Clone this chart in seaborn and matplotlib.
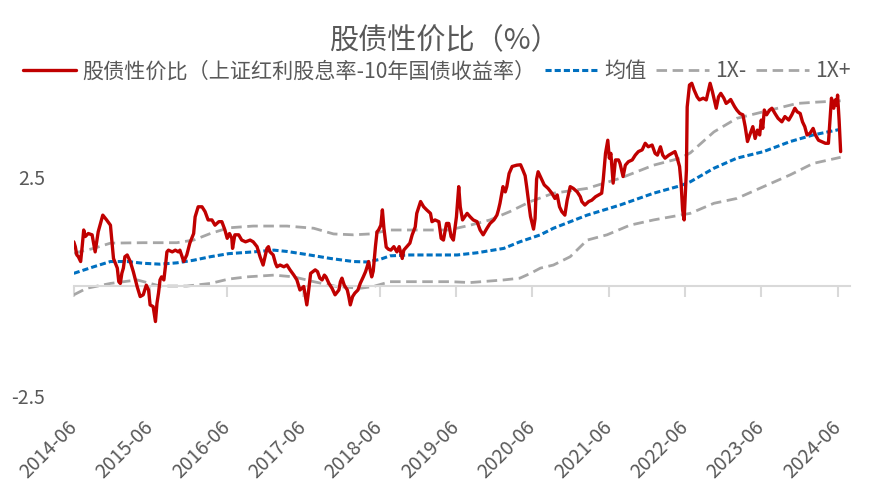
import matplotlib
matplotlib.use("Agg")
import matplotlib.pyplot as plt
import matplotlib.dates as mdates
import pandas as pd
import seaborn as sns

# values; time is given as decimal year
red_t = [2014.41, 2014.43, 2014.45, 2014.47, 2014.50, 2014.52, 2014.54, 2014.56, 2014.60, 2014.65,
         2014.69, 2014.71, 2014.73, 2014.76, 2014.79, 2014.84, 2014.89, 2014.91, 2014.93, 2014.98,
         2015.00, 2015.02, 2015.04, 2015.06, 2015.08, 2015.11, 2015.15, 2015.19, 2015.24, 2015.28,
         2015.32, 2015.36, 2015.39, 2015.41, 2015.45, 2015.48, 2015.50, 2015.52, 2015.54, 2015.56,
         2015.59, 2015.61, 2015.63, 2015.65, 2015.70, 2015.74, 2015.78, 2015.80, 2015.85, 2015.89,
         2015.93, 2015.98, 2016.00, 2016.04, 2016.09, 2016.13, 2016.17, 2016.22, 2016.26, 2016.31,
         2016.35, 2016.39, 2016.42, 2016.45, 2016.48, 2016.49, 2016.52, 2016.57, 2016.61, 2016.66,
         2016.72, 2016.76, 2016.81, 2016.85, 2016.89, 2016.92, 2016.94, 2016.96, 2016.98, 2017.02,
         2017.05, 2017.07, 2017.11, 2017.16, 2017.20, 2017.24, 2017.29, 2017.33, 2017.37, 2017.42,
         2017.46, 2017.48, 2017.51, 2017.54, 2017.57, 2017.60, 2017.63, 2017.66, 2017.69, 2017.71,
         2017.75, 2017.79, 2017.83, 2017.88, 2017.90, 2017.92, 2017.95, 2017.99, 2018.01, 2018.03,
         2018.06, 2018.09, 2018.13, 2018.16, 2018.20, 2018.23, 2018.25, 2018.27, 2018.29, 2018.31,
         2018.33, 2018.36, 2018.38, 2018.40, 2018.43, 2018.45, 2018.47, 2018.50, 2018.53, 2018.56,
         2018.60, 2018.64, 2018.67, 2018.71, 2018.73, 2018.77, 2018.81, 2018.84, 2018.88, 2018.90,
         2018.95, 2018.99, 2019.03, 2019.08, 2019.10, 2019.14, 2019.19, 2019.22, 2019.25, 2019.29,
         2019.32, 2019.35, 2019.38, 2019.42, 2019.45, 2019.47, 2019.50, 2019.56, 2019.60, 2019.64,
         2019.69, 2019.73, 2019.77, 2019.82, 2019.86, 2019.91, 2019.95, 2019.97, 2019.99, 2020.03,
         2020.06, 2020.08, 2020.11, 2020.15, 2020.21, 2020.26, 2020.29, 2020.32, 2020.34, 2020.36,
         2020.39, 2020.43, 2020.45, 2020.47, 2020.49, 2020.53, 2020.57, 2020.62, 2020.67, 2020.71,
         2020.74, 2020.77, 2020.80, 2020.84, 2020.87, 2020.91, 2020.95, 2021.00, 2021.04, 2021.06,
         2021.10, 2021.15, 2021.19, 2021.24, 2021.28, 2021.32, 2021.34, 2021.37, 2021.40, 2021.42,
         2021.44, 2021.47, 2021.50, 2021.54, 2021.56, 2021.60, 2021.63, 2021.67, 2021.72, 2021.76,
         2021.80, 2021.85, 2021.89, 2021.93, 2021.98, 2022.02, 2022.05, 2022.09, 2022.12, 2022.15,
         2022.20, 2022.24, 2022.28, 2022.31, 2022.34, 2022.36, 2022.38, 2022.40, 2022.43, 2022.44,
         2022.47, 2022.50, 2022.53, 2022.57, 2022.60, 2022.65, 2022.69, 2022.72, 2022.74, 2022.77,
         2022.82, 2022.85, 2022.88, 2022.92, 2022.95, 2022.98, 2023.01, 2023.06, 2023.09, 2023.13,
         2023.17, 2023.20, 2023.23, 2023.26, 2023.30, 2023.33, 2023.36, 2023.39, 2023.41, 2023.43,
         2023.45, 2023.48, 2023.52, 2023.55, 2023.59, 2023.63, 2023.68, 2023.72, 2023.77, 2023.81,
         2023.85, 2023.88, 2023.92, 2023.95, 2023.98, 2024.01, 2024.05, 2024.09, 2024.12, 2024.16,
         2024.20, 2024.25, 2024.29, 2024.31, 2024.33, 2024.36, 2024.38, 2024.40, 2024.41, 2024.43,
         2024.45]
red_v = [1.02, 0.91, 0.72, 0.68, 0.57, 0.91, 1.29, 1.14, 1.21, 1.18,
         0.79, 1.02, 1.25, 1.44, 1.63, 1.52, 1.40, 1.02, 0.64, 0.42,
         0.11, 0.07, 0.30, 0.42, 0.68, 0.72, 0.57, 0.34, 0.00, -0.23,
         -0.19, 0.03, -0.08, -0.42, -0.46, -0.80, -0.38, -0.15, 0.15, 0.22,
         0.15, 0.45, 0.79, 0.83, 0.79, 0.83, 0.79, 0.83, 0.57, 0.72,
         0.99, 1.21, 1.59, 1.82, 1.82, 1.71, 1.52, 1.52, 1.40, 1.48,
         1.48, 1.29, 1.10, 1.21, 1.10, 0.87, 1.18, 1.18, 1.06, 1.02,
         1.06, 1.02, 0.91, 0.68, 0.49, 0.72, 0.87, 0.91, 0.79, 0.72,
         0.53, 0.45, 0.49, 0.45, 0.49, 0.38, 0.26, 0.15, -0.08, 0.00,
         -0.42, -0.15, 0.30, 0.34, 0.38, 0.34, 0.19, 0.15, 0.26, 0.22,
         0.07, -0.04, -0.19, -0.08, 0.11, 0.19, 0.03, -0.08, -0.23, -0.42,
         -0.23, -0.15, -0.08, 0.07, 0.22, 0.34, 0.45, 0.57, 0.38, 0.22,
         0.35, 0.93, 1.25, 1.29, 1.40, 1.75, 1.33, 0.90, 0.85, 0.83,
         0.91, 0.79, 0.91, 0.64, 0.83, 0.91, 0.99, 1.18, 1.36, 1.67,
         1.94, 1.82, 1.75, 1.67, 1.48, 1.52, 1.48, 1.10, 1.06, 1.44,
         1.44, 1.14, 1.06, 1.59, 2.28, 1.82, 1.52, 1.67, 1.59, 1.52,
         1.48, 1.29, 1.18, 1.33, 1.44, 1.52, 1.63, 1.75, 1.90, 2.28,
         2.16, 2.28, 2.58, 2.74, 2.77, 2.78, 2.66, 2.53, 2.28, 2.00,
         1.60, 1.31, 1.55, 2.45, 2.62, 2.47, 2.32, 2.24, 2.13, 2.01,
         2.09, 1.82, 1.71, 1.63, 1.97, 2.28, 2.24, 2.16, 2.05, 1.94,
         1.86, 1.94, 1.97, 2.05, 2.09, 2.13, 2.43, 3.04, 3.34, 2.93,
         3.04, 2.36, 2.89, 2.89, 2.81, 2.51, 2.77, 2.85, 2.89, 3.00,
         3.08, 3.12, 3.27, 3.19, 3.23, 3.04, 3.00, 3.19, 3.00, 2.93,
         3.00, 3.04, 3.08, 2.93, 2.74, 2.36, 1.75, 1.52, 2.66, 4.10,
         4.60, 4.64, 4.49, 4.33, 4.26, 4.30, 4.26, 4.49, 4.64, 4.45,
         4.07, 4.33, 4.41, 4.30, 4.18, 4.22, 4.27, 4.11, 4.03, 3.95,
         3.92, 3.65, 3.31, 3.46, 3.65, 3.38, 3.57, 3.46, 3.80, 3.61,
         4.03, 3.92, 4.03, 4.07, 3.95, 3.84, 3.76, 3.88, 3.80, 3.92,
         4.07, 3.99, 3.95, 3.76, 3.65, 3.46, 3.50, 3.61, 3.46, 3.34,
         3.31, 3.27, 3.27, 3.80, 4.30, 4.07, 4.26, 4.14, 4.37, 3.80,
         3.08]

mean_t = [2014.41, 2014.67, 2014.89, 2015.11, 2015.32, 2015.54, 2015.76, 2015.98, 2016.20, 2016.44,
          2016.76, 2017.03, 2017.20, 2017.46, 2017.77, 2018.07, 2018.25, 2018.42, 2018.55, 2018.81,
          2019.16, 2019.43, 2019.69, 2020.04, 2020.25, 2020.52, 2020.69, 2021.13, 2021.56, 2022.00,
          2022.35, 2022.48, 2022.79, 2023.09, 2023.44, 2023.79, 2024.09, 2024.45]
mean_v = [0.30, 0.45, 0.57, 0.57, 0.53, 0.51, 0.54, 0.60, 0.68, 0.75,
          0.79, 0.83, 0.80, 0.73, 0.64, 0.57, 0.56, 0.62, 0.70, 0.72,
          0.72, 0.72, 0.77, 0.87, 1.02, 1.18, 1.33, 1.63, 1.86, 2.13,
          2.30, 2.39, 2.70, 2.93, 3.08, 3.31, 3.46, 3.59]

upper_t = [2014.41, 2014.67, 2014.89, 2015.32, 2015.76, 2015.98, 2016.20, 2016.44, 2016.76, 2017.20,
           2017.55, 2017.81, 2018.07, 2018.29, 2018.55, 2018.95, 2019.32, 2019.60, 2019.86, 2020.12,
           2020.39, 2020.69, 2021.13, 2021.56, 2022.00, 2022.35, 2022.48, 2022.79, 2023.09, 2023.44,
           2023.88, 2024.14, 2024.45]
upper_v = [0.76, 0.87, 0.99, 1.00, 1.00, 1.06, 1.21, 1.34, 1.38, 1.38,
           1.33, 1.20, 1.18, 1.20, 1.29, 1.29, 1.29, 1.40, 1.52, 1.71,
           1.94, 2.13, 2.24, 2.47, 2.77, 2.93, 3.05, 3.53, 3.84, 3.99,
           4.18, 4.21, 4.24]

lower_t = [2014.41, 2014.58, 2014.89, 2015.24, 2015.54, 2015.89, 2016.20, 2016.44, 2016.68, 2017.03,
           2017.29, 2017.55, 2017.85, 2018.16, 2018.33, 2018.55, 2018.95, 2019.34, 2019.60, 2020.04,
           2020.25, 2020.39, 2020.52, 2020.69, 2020.91, 2021.13, 2021.39, 2021.69, 2022.00, 2022.35,
           2022.48, 2022.79, 2023.09, 2023.44, 2023.79, 2024.09, 2024.45]
lower_v = [-0.19, -0.04, 0.07, 0.15, 0.01, 0.01, 0.07, 0.17, 0.22, 0.26,
           0.22, 0.11, 0.00, -0.04, 0.00, 0.11, 0.11, 0.11, 0.09, 0.15,
           0.19, 0.30, 0.42, 0.49, 0.68, 1.06, 1.18, 1.40, 1.52, 1.63,
           1.67, 1.90, 2.01, 2.28, 2.55, 2.81, 2.95]

y_ticks = [-2.5, 2.5]
y_labels = ["-2.5", "2.5"]


def to_dates(ts):
    out = []
    for t in ts:
        y = int(t)
        out.append(pd.Timestamp(year=y, month=1, day=1) + pd.Timedelta(days=(t - y) * 365.25))
    return out


grey_txt = "#595959"
sns.set_theme(style="white")
plt.rcParams["font.family"] = ["Noto Sans CJK SC", "DejaVu Sans"]
plt.rcParams["axes.unicode_minus"] = False

fig = plt.figure(figsize=(8.74, 4.91), dpi=100)
ax = fig.add_axes([0.0847, 0.1935, 0.8878, 0.669])

sns.lineplot(x=to_dates(red_t), y=red_v, ax=ax, color="#C00000", lw=2.4,
             label="股债性价比（上证红利股息率-10年国债收益率）", zorder=4, sort=False)
sns.lineplot(x=to_dates(mean_t), y=mean_v, ax=ax, color="#0070C0", lw=2.2,
             linestyle=(0, (2, 1)), label="均值", zorder=3, sort=False)
sns.lineplot(x=to_dates(lower_t), y=lower_v, ax=ax, color="#A6A6A6", lw=2.0,
             linestyle=(0, (3.8, 2)), label="1X-", zorder=2, sort=False)
sns.lineplot(x=to_dates(upper_t), y=upper_v, ax=ax, color="#A6A6A6", lw=2.0,
             linestyle=(0, (3.8, 2)), label="1X+", zorder=2, sort=False)

ax.set_xlim(pd.Timestamp("2014-06-01"), pd.Timestamp("2024-07-28"))
ax.set_ylim(-2.5, 5)
ax.set_xlabel("")
ax.set_ylabel("")

for s in ["left", "right", "top"]:
    ax.spines[s].set_visible(False)
ax.spines["bottom"].set_position(("data", 0))
ax.spines["bottom"].set_color("#D9D9D9")
ax.spines["bottom"].set_linewidth(1.5)

ax.xaxis.set_major_locator(mdates.YearLocator(base=1, month=6, day=1))
ax.xaxis.set_major_formatter(mdates.DateFormatter("%Y-%m"))
ax.tick_params(axis="x", direction="out", length=8, width=1.5, color="#D9D9D9",
               labelsize=14, labelcolor=grey_txt, pad=91, bottom=True)
for lab in ax.get_xticklabels():
    lab.set_rotation(45)
    lab.set_ha("right")
    lab.set_va("center")
    lab.set_rotation_mode("anchor")

ax.set_yticks(y_ticks)
ax.set_yticklabels(y_labels)
ax.tick_params(axis="y", length=0, labelsize=14, labelcolor=grey_txt, pad=21)
ax.grid(False)

handles, labels = ax.get_legend_handles_labels()
ax.legend(handles, labels, loc="center", bbox_to_anchor=(0.5, 0.855),
          bbox_transform=fig.transFigure, ncol=4, frameon=False, fontsize=15.2,
          handlelength=2.5, handletextpad=0.3, columnspacing=0.45, labelcolor=grey_txt)

fig.text(0.508, 0.917, "股债性价比（%）", ha="center", va="center", fontsize=21, color=grey_txt)

fig.savefig("out.png", dpi=100)
